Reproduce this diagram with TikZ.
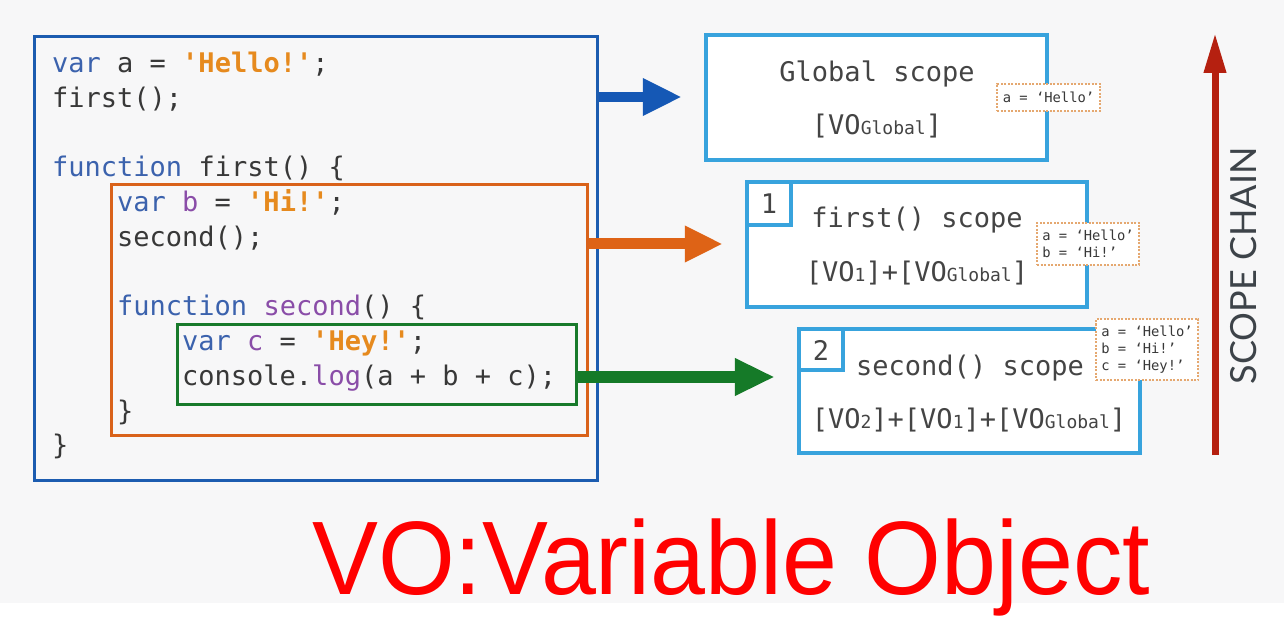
\documentclass[tikz,border=0pt]{standalone}
\usepackage{fontspec}
\setmonofont{DejaVu Sans Mono}
\newfontfamily\latofont{Lato}
\newfontfamily\handfont{Liberation Sans}
\usetikzlibrary{arrows.meta}
\definecolor{bg}{HTML}{F7F7F8}
\definecolor{codeblue}{HTML}{1C5CB0}
\definecolor{codeorange}{HTML}{D9621A}
\definecolor{codegreen}{HTML}{187A2B}
\definecolor{arrblue}{HTML}{1558B5}
\definecolor{arrorange}{HTML}{DE6316}
\definecolor{arrgreen}{HTML}{157A28}
\definecolor{scblue}{HTML}{38A3DD}
\definecolor{chainred}{HTML}{B52010}
\definecolor{chaingray}{HTML}{3D4349}
\definecolor{kwblue}{HTML}{3B62AD}
\definecolor{strorange}{HTML}{E68A1E}
\definecolor{purp}{HTML}{8A4DA8}
\definecolor{codegray}{HTML}{383838}
\definecolor{scgray}{HTML}{444444}
\definecolor{noteorange}{HTML}{E5A870}
\definecolor{hred}{HTML}{FF0000}
\newcommand\kw[1]{\textcolor{kwblue}{#1}}
\newcommand\st[1]{\textcolor{strorange}{\bfseries #1}}
\newcommand\pu[1]{\textcolor{purp}{#1}}
\newcommand\vsub[1]{[VO{\fontsize{18}{18}\selectfont #1}]}
\begin{document}
\begin{tikzpicture}[x=1pt,y=-1pt,
  codeline/.style={anchor=base west, inner sep=0pt, text=codegray, font=\ttfamily\fontsize{27}{27}\selectfont},
  codeframe/.style={draw=#1, line width=3pt, inner sep=0pt},
  scopebox/.style={draw=scblue, line width=4.5pt, fill=white, inner sep=0pt},
  numbox/.style={draw=scblue, line width=4.5pt, inner sep=0pt, text=scgray, font=\ttfamily\fontsize{27}{27}\selectfont},
  sctext/.style={anchor=base, inner sep=0pt, text=scgray, font=\ttfamily\fontsize{27}{27}\selectfont},
  note/.style={draw=noteorange, dash pattern=on 2pt off 1.5pt, line width=1.2pt, fill=white, inner sep=0pt, align=left, text=codegray, font=\ttfamily\fontsize{13.8}{17}\selectfont},
  bigarrow/.style args={#1/#2/#3/#4}{draw=#1, line width=#2, -{Triangle[length=#3,width=#4]}, shorten >=22pt}
]
\fill[white] (0,0) rectangle (1284,617);
\fill[bg] (0,0) rectangle (1284,603);
\useasboundingbox (0,0) rectangle (1284,617);

% code frames
\node[codeframe=codeblue, minimum width=563pt, minimum height=443pt] (gframe) at (315.5,258.5) {};
\node[codeframe=codeorange, minimum width=476pt, minimum height=250pt] (fframe) at (349,310) {};
\node[codeframe=codegreen, minimum width=399pt, minimum height=79pt] (sframe) at (376.5,364.5) {};

% code
\node[codeline] (l1) at (52,72.5) {\kw{var} a = \st{'Hello!'};};
\node[codeline] (l2) at (52,107.25) {first();};
\node[codeline] (l4) at (52,176.75) {\kw{function} first() \{};
\node[codeline] (l5) at (117,211.5) {\kw{var} \pu{b} = \st{'Hi!'};};
\node[codeline] (l6) at (117,246.25) {second();};
\node[codeline] (l8) at (117,315.75) {\kw{function} \pu{second}() \{};
\node[codeline] (l9) at (182,350.5) {\kw{var} \pu{c} = \st{'Hey!'};};
\node[codeline] (l10) at (182,385.25) {console.\pu{log}(a + b + c);};
\node[codeline] (l11) at (117,420) {\}};
\node[codeline] (l12) at (52,454.75) {\}};

% scope boxes
\node[scopebox, minimum width=341pt, minimum height=125pt] (global) at (876.5,97.5) {};
\node[scopebox, minimum width=340pt, minimum height=125pt] (first) at (917,244.5) {};
\node[scopebox, minimum width=341pt, minimum height=124pt] (second) at (969.5,391) {};
\node[numbox, minimum width=44pt, minimum height=43pt] (n1) at (769,203.5) {};
\node[numbox, minimum width=44pt, minimum height=41pt] (n2) at (821,349.5) {};
\node[sctext] (n1t) at (769,214) {1};
\node[sctext] (n2t) at (821,360) {2};

\node[sctext] (gt) at (877,82) {Global scope};
\node[sctext] (gv) at (877,135) {\vsub{Global}};
\node[sctext] (ft) at (917,228) {first() scope};
\node[sctext] (fv) at (917,282) {\vsub{1}+\vsub{Global}};
\node[sctext] (st) at (970,375) {second() scope};
\node[sctext] (sv) at (969,428) {\vsub{2}+\vsub{1}+\vsub{Global}};

% notes
\node[note, minimum width=103pt, minimum height=27pt] (g1) at (1048.5,97.5) {a = ‘Hello’};
\node[note, minimum width=102pt, minimum height=42pt] (f1) at (1088,244) {a = ‘Hello’\\b = ‘Hi!’};
\node[note, minimum width=102pt, minimum height=61pt] (s1) at (1147,349.5) {a = ‘Hello’\\b = ‘Hi!’\\c = ‘Hey!’};

% arrows
\draw[bigarrow=arrblue/10pt/39pt/35pt] (gframe.east |- 0,97) -- (global.west |- 0,97);
\draw[bigarrow=arrorange/11pt/38pt/34pt] (fframe.east |- 0,244) -- (first.west |- 0,244);
\draw[bigarrow=arrgreen/12pt/40pt/35pt] (sframe.east |- 0,377) -- (second.west |- 0,377);

% scope chain
\coordinate (cb) at (1215,455);
\coordinate (ct) at (1215,33);
\draw[draw=chainred, line width=7pt, -{Triangle[length=40pt,width=21pt]}] (cb) -- (ct);
\node[rotate=90, inner sep=0pt, text=chaingray, font=\latofont\fontsize{36}{36}\selectfont] (chain) at (1244,266) {SCOPE CHAIN};

% handwritten note
\node[anchor=base west, inner sep=0pt, text=hred] (vo) at (312,594) {\scalebox{1.04}[1.1]{\handfont\fontsize{95}{95}\selectfont VO:Variable Object}};
\end{tikzpicture}
\end{document}
